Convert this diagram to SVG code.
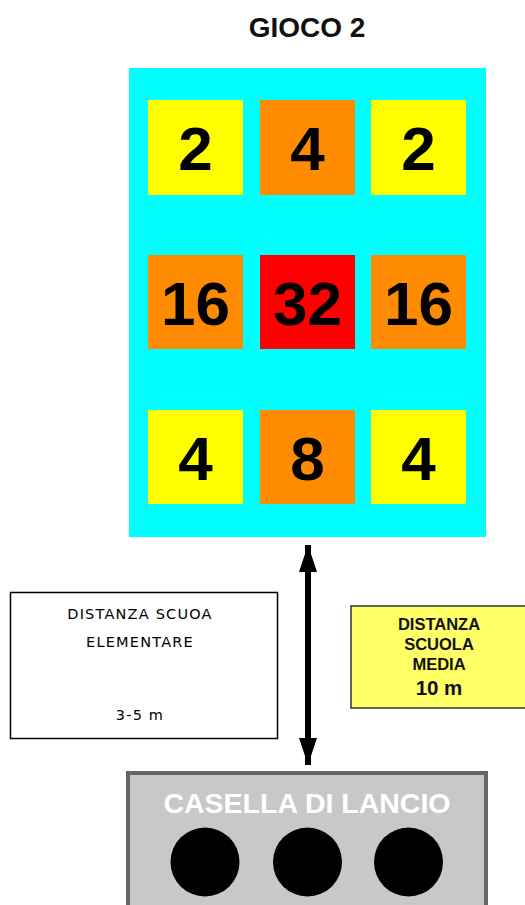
<svg xmlns="http://www.w3.org/2000/svg" width="525" height="905" viewBox="0 0 525 905">
<style>
.num{font-family:"Liberation Sans",Arial,sans-serif;font-weight:bold;font-size:62px;text-anchor:middle;fill:#000}
.y{fill:#ffff00}.o{fill:#ff8c00}.r{fill:#ff0000}
.hand{font-family:"DejaVu Sans",sans-serif;font-size:14.5px;letter-spacing:1.2px;text-anchor:middle;fill:#000}
.bold{font-family:"Liberation Sans",Arial,sans-serif;font-weight:bold;text-anchor:middle;fill:#111}
</style>
<defs>
<marker id="ah" viewBox="0 0 15 10" refX="15" refY="5" markerWidth="4.5" markerHeight="3" orient="auto-start-reverse" markerUnits="strokeWidth">
<path d="M0,0 L15,5 L0,10 z" fill="#000"/>
</marker>
</defs>
<rect width="525" height="905" fill="#fff"/>
<g id="title"><text x="307" y="37" class="bold" font-size="28">GIOCO 2</text></g>
<g id="board">
<rect x="129" y="68" width="357" height="469" fill="#00ffff"/>
</g>
<g id="c11"><rect class="y" x="148" y="100" width="95" height="95"/><text class="num" x="195.5" y="170">2</text></g>
<g id="c12"><rect class="o" x="260" y="100" width="95" height="95"/><text class="num" x="307.5" y="170">4</text></g>
<g id="c13"><rect class="y" x="371" y="100" width="95" height="95"/><text class="num" x="418.5" y="170">2</text></g>
<g id="c21"><rect class="o" x="148" y="255" width="95" height="94"/><text class="num" x="195.5" y="325">16</text></g>
<g id="c22"><rect class="r" x="260" y="255" width="95" height="94"/><text class="num" x="307.5" y="325">32</text></g>
<g id="c23"><rect class="o" x="371" y="255" width="95" height="94"/><text class="num" x="418.5" y="325">16</text></g>
<g id="c31"><rect class="y" x="148" y="410" width="95" height="94"/><text class="num" x="195.5" y="480">4</text></g>
<g id="c32"><rect class="o" x="260" y="410" width="95" height="94"/><text class="num" x="307.5" y="480">8</text></g>
<g id="c33"><rect class="y" x="371" y="410" width="95" height="94"/><text class="num" x="418.5" y="480">4</text></g>
<g id="connectors">
<line x1="308" y1="545" x2="308" y2="765" stroke="#000" stroke-width="6" marker-start="url(#ah)" marker-end="url(#ah)"/>
</g>
<g id="elementare">
<rect x="10.5" y="592.5" width="267" height="146" fill="#fff" stroke="#000" stroke-width="1.5"/>
<text class="hand" x="140" y="619">DISTANZA SCUOA</text>
<text class="hand" x="140" y="647">ELEMENTARE</text>
<text class="hand" x="140" y="720">3-5 m</text>
</g>
<g id="media">
<rect x="351" y="606" width="180" height="102" fill="#ffff66" stroke="#333" stroke-width="1.5"/>
<text class="bold" x="439" y="630" font-size="16.5">DISTANZA</text>
<text class="bold" x="439" y="650" font-size="16.5">SCUOLA</text>
<text class="bold" x="439" y="670" font-size="16.5">MEDIA</text>
<text class="bold" x="439" y="695" font-size="20.5">10 m</text>
</g>
<g id="lancio">
<rect x="128" y="773" width="358" height="140" fill="#c8c8c8" stroke="#666" stroke-width="4"/>
<text x="307" y="813" font-family="'Liberation Sans',Arial,sans-serif" font-weight="bold" font-size="28.5" text-anchor="middle" fill="#fff">CASELLA DI LANCIO</text>
<circle cx="205" cy="862" r="34.5" fill="#000"/>
<circle cx="307.5" cy="862" r="34.5" fill="#000"/>
<circle cx="408.5" cy="862" r="34.5" fill="#000"/>
</g>
</svg>
